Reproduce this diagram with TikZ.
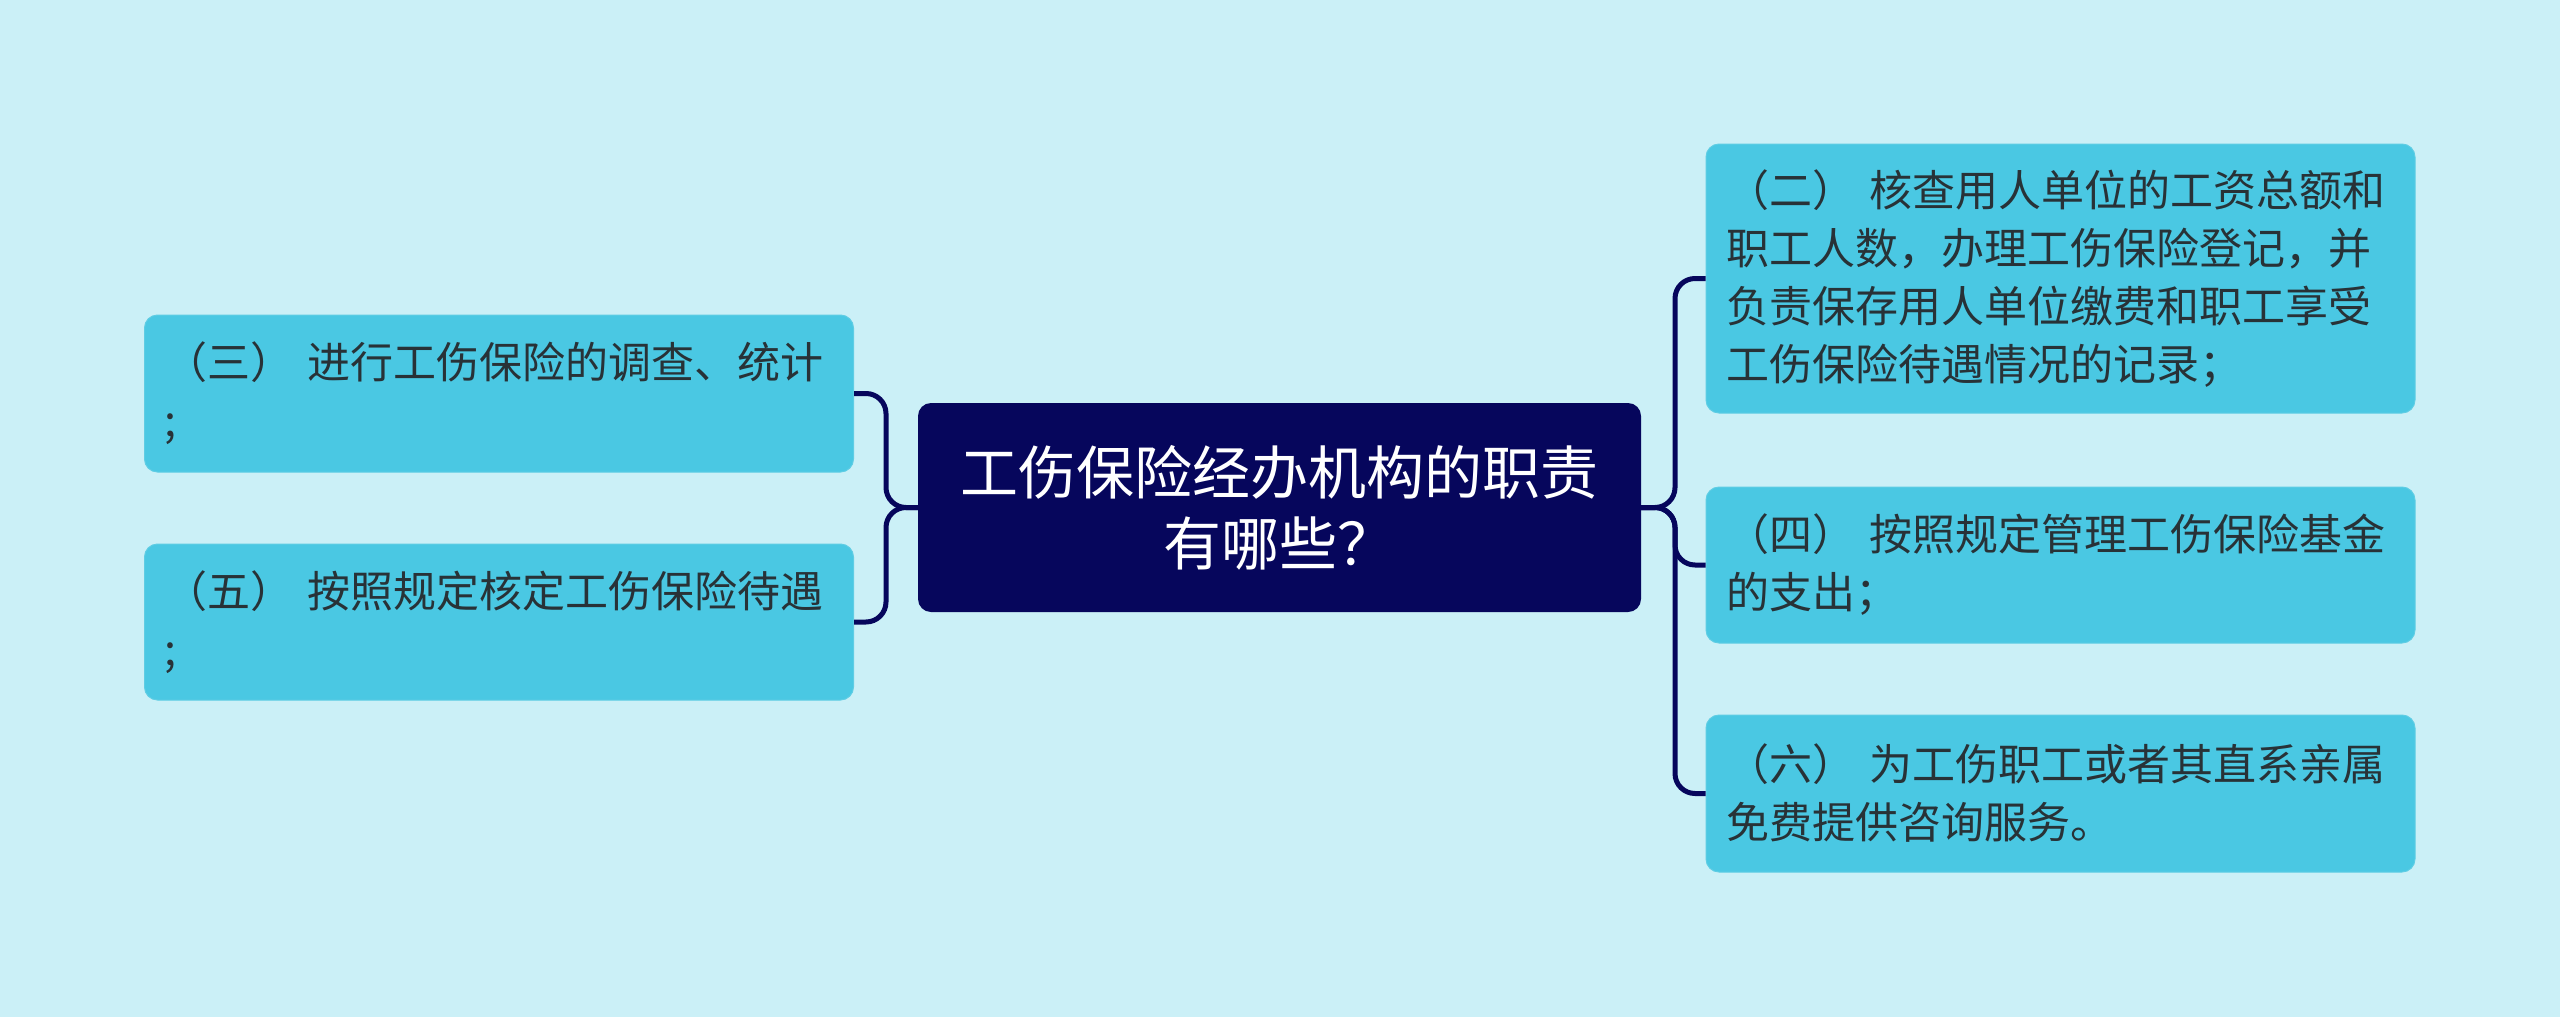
\documentclass[tikz,border=0pt]{standalone}
\usepackage{fontspec}
\newfontfamily\cjk{Noto Sans CJK SC}
\definecolor{bgc}{RGB}{203,240,247}
\definecolor{boxc}{RGB}{74,200,227}
\definecolor{boxline}{RGB}{95,205,228}
\definecolor{navy}{RGB}{6,6,92}
\definecolor{txt}{RGB}{40,50,55}
\begin{document}
\begin{tikzpicture}[x=1pt,y=-1pt,
  leaf/.style={draw=boxline,line width=1pt,fill=boxc,rounded corners=13pt,
    minimum width=709pt,inner xsep=20pt,inner ysep=0pt,text width=669pt,align=left,
    text=txt,font=\cjk\fontsize{43}{58}\selectfont},
  root/.style={fill=navy,rounded corners=13pt,minimum width=723pt,minimum height=209pt,
    align=center,text=white,font=\cjk\fontsize{58}{71}\selectfont},
  conn/.style={draw=navy,line width=5pt,rounded corners=20pt}]
\fill[bgc] (0,0) rectangle (2560,1017);
\useasboundingbox (0,0) rectangle (2560,1017);

\node[root] (c) at (1279.5,507.5) {工伤保险经办机构的职责\\有哪些？};

\node[leaf,minimum height=157pt] (l1) at (499,393.5) {（三） 进行工伤保险的调查、统计\\;};
\node[leaf,minimum height=156pt] (l2) at (499,622) {（五） 按照规定核定工伤保险待遇\\;};

\node[leaf,minimum height=269pt] (r1) at (2060.5,278.5) {（二） 核查用人单位的工资总额和\\职工人数，办理工伤保险登记，并\\负责保存用人单位缴费和职工享受\\工伤保险待遇情况的记录；};
\node[leaf,minimum height=156pt] (r2) at (2060.5,565) {（四） 按照规定管理工伤保险基金\\的支出；};
\node[leaf,minimum height=157pt] (r3) at (2060.5,793.5) {（六） 为工伤职工或者其直系亲属\\免费提供咨询服务。};

\coordinate (lj) at (886,507.5);
\coordinate (rj) at (1675,507.5);

\draw[conn] (c.west) -- (lj) |- (l1.east);
\draw[conn] (c.west) -- (lj) |- (l2.east);
\draw[conn] (c.east) -- (rj) |- (r1.west);
\draw[conn] (c.east) -- (rj) |- (r2.west);
\draw[conn] (c.east) -- (rj) |- (r3.west);
\end{tikzpicture}
\end{document}
